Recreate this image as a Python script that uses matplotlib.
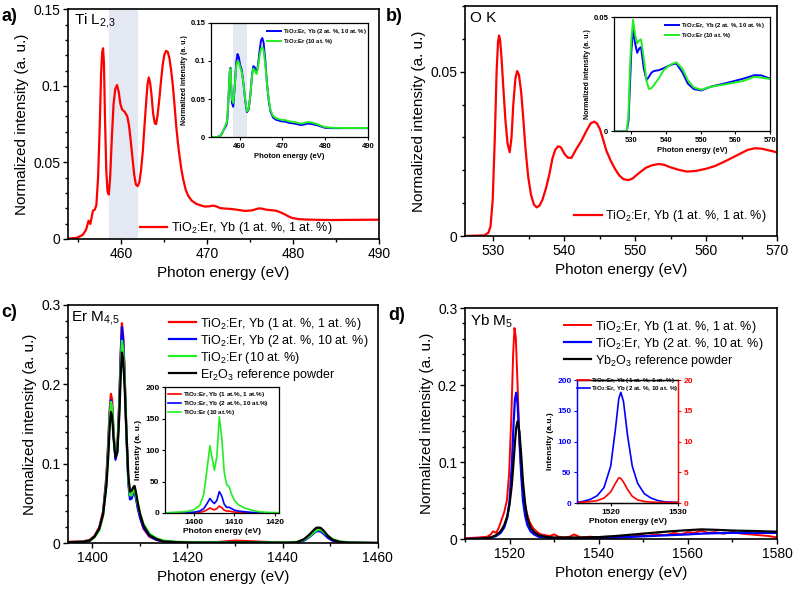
import matplotlib
matplotlib.use('Agg')
import matplotlib.pyplot as plt
from matplotlib.ticker import AutoMinorLocator

plt.rcParams['font.family'] = ['Liberation Sans', 'DejaVu Sans']
plt.rcParams['mathtext.default'] = 'regular'

RED = '#ff0000'
BLUE = '#0000ff'
GREEN = '#22ee22'
BLACK = '#000000'
SHADE = '#e4e8f2'

LBL_11 = 'TiO$_2$:Er, Yb (1 at. %, 1 at. %)'
LBL_210 = 'TiO$_2$:Er, Yb (2 at. %, 10 at. %)'
LBL_10 = 'TiO$_2$:Er (10 at. %)'
LBL_ER2O3 = 'Er$_2$O$_3$ reference powder'
LBL_YB2O3 = 'Yb$_2$O$_3$ reference powder'
LBL_IN_11 = 'TiO$_2$:Er, Yb (1 at.%, 1 at.%)'
LBL_IN_210 = 'TiO$_2$:Er, Yb (2 at.%, 10 at.%)'
LBL_IN_10 = 'TiO$_2$:Er (10 at.%)'

# ---------------- a) Ti L2,3 ----------------
ti_e = [453.8, 454.8, 455.5, 455.9, 456.2, 456.4, 456.7, 456.9, 457.1, 457.3,
        457.5, 457.65, 457.78, 457.88, 457.98, 458.1, 458.25, 458.4, 458.55, 458.7,
        458.9, 459.1, 459.3, 459.5, 459.7, 459.9, 460.1, 460.4, 460.7, 460.9,
        461.1, 461.3, 461.5, 461.7, 461.9, 462.1, 462.3, 462.5, 462.7, 462.9,
        463.05, 463.2, 463.35, 463.5, 463.7, 463.9, 464.05, 464.2, 464.4, 464.6,
        464.8, 465.0, 465.2, 465.4, 465.6, 465.8, 466.0, 466.2, 466.4, 466.6,
        466.8, 467.0, 467.2, 467.5, 467.8, 468.2, 468.7, 469.2, 469.7, 470.2,
        470.7, 471.1, 471.5, 472.2, 472.8, 473.6, 474.4, 475.2, 475.7, 476.0,
        476.4, 476.8, 477.4, 478.0, 478.6, 479.1, 479.5, 479.9, 480.6, 481.5,
        483.0, 484.6, 487.0, 490.0]
ti_red = [0.0003, 0.0007, 0.0026, 0.006, 0.012, 0.0098, 0.0185, 0.019, 0.022, 0.04,
          0.075, 0.108, 0.122, 0.1245, 0.115, 0.08, 0.045, 0.031, 0.029, 0.04,
          0.066, 0.088, 0.098, 0.1005, 0.096, 0.088, 0.0845, 0.083, 0.08, 0.074,
          0.064, 0.053, 0.042, 0.0355, 0.0345, 0.037, 0.045, 0.057, 0.074, 0.09,
          0.101, 0.1055, 0.102, 0.095, 0.082, 0.0755, 0.075, 0.08, 0.09, 0.102,
          0.113, 0.12, 0.1228, 0.1222, 0.118, 0.11, 0.1, 0.087, 0.073, 0.062,
          0.053, 0.045, 0.039, 0.032, 0.028, 0.025, 0.023, 0.022, 0.0212, 0.0213,
          0.0218, 0.0212, 0.0202, 0.0198, 0.0196, 0.019, 0.0183, 0.0187, 0.0195, 0.0200,
          0.0198, 0.0192, 0.0188, 0.0185, 0.0172, 0.0158, 0.0146, 0.0137, 0.013, 0.0127,
          0.0125, 0.0124, 0.0125, 0.0126]
tiin_e = [453.8, 454.8, 455.5, 455.9, 456.2, 456.4, 456.7, 456.9, 457.1, 457.3,
          457.5, 457.7, 457.85, 458.0, 458.2, 458.5, 458.9, 459.2, 459.5, 459.8,
          460.1, 460.5, 460.9, 461.3, 461.7, 462.1, 462.5, 462.9, 463.2, 463.5,
          463.8, 464.0, 464.3, 464.7, 465.0, 465.3, 465.6, 466.0, 466.4, 466.8,
          467.2, 467.8, 468.5, 469.7, 470.7, 471.5, 472.8, 474.4, 475.2, 476.0,
          476.8, 478.0, 479.1, 479.9, 481.5, 484.6, 490.0]
tiin_blue = [0.0003, 0.0005, 0.002, 0.005, 0.009, 0.011, 0.014, 0.016, 0.022, 0.04,
             0.065, 0.087, 0.091, 0.07, 0.045, 0.04, 0.07, 0.098, 0.109, 0.105,
             0.095, 0.088, 0.07, 0.048, 0.033, 0.036, 0.055, 0.082, 0.093, 0.092,
             0.086, 0.085, 0.095, 0.115, 0.127, 0.13, 0.124, 0.1, 0.07, 0.048,
             0.034, 0.026, 0.023, 0.021, 0.0205, 0.019, 0.018, 0.016, 0.017, 0.018,
             0.0175, 0.016, 0.014, 0.0125, 0.012, 0.012, 0.012]
tiin_green = [0.0003, 0.0005, 0.002, 0.005, 0.009, 0.012, 0.016, 0.018, 0.024, 0.042,
              0.066, 0.086, 0.09, 0.072, 0.05, 0.045, 0.07, 0.093, 0.1, 0.098,
              0.092, 0.085, 0.07, 0.05, 0.034, 0.037, 0.055, 0.08, 0.09, 0.088,
              0.084, 0.083, 0.092, 0.108, 0.116, 0.118, 0.114, 0.095, 0.07, 0.05,
              0.036, 0.028, 0.025, 0.023, 0.0225, 0.021, 0.02, 0.018, 0.019, 0.02,
              0.0195, 0.0175, 0.015, 0.0135, 0.0125, 0.0122, 0.0122]

# ---------------- b) O K ----------------
ok_e = [526.0, 528.7, 529.3, 529.6, 529.9, 530.2, 530.45, 530.65, 530.8, 530.95,
        531.15, 531.4, 531.7, 532.0, 532.3, 532.55, 532.8, 533.1, 533.35, 533.6,
        533.9, 534.2, 534.5, 534.9, 535.3, 535.7, 536.1, 536.5, 536.9, 537.4,
        537.9, 538.3, 538.7, 539.1, 539.5, 540.0, 540.5, 541.0, 541.6, 542.4,
        543.1, 543.7, 544.2, 544.6, 545.0, 545.5, 545.9, 546.5, 547.1, 547.7,
        548.3, 549.0, 549.6, 550.4, 551.5, 552.3, 553.2, 554.0, 554.8, 556.0,
        557.2, 558.5, 560.0, 561.2, 562.4, 563.6, 564.7, 565.8, 566.8, 567.7,
        568.5, 569.3, 570.0]
ok_red = [0, 0.0002, 0.001, 0.003, 0.011, 0.03, 0.05, 0.059, 0.061, 0.0595,
          0.054, 0.045, 0.035, 0.028, 0.0255, 0.03, 0.04, 0.048, 0.0502, 0.049,
          0.044, 0.036, 0.027, 0.018, 0.0125, 0.0096, 0.0087, 0.0093, 0.011, 0.0145,
          0.019, 0.0235, 0.0262, 0.0273, 0.027, 0.025, 0.0238, 0.0238, 0.0262, 0.029,
          0.032, 0.0343, 0.0348, 0.0342, 0.0325, 0.029, 0.026, 0.023, 0.0205, 0.0185,
          0.0173, 0.017, 0.0175, 0.019, 0.0208, 0.0215, 0.0219, 0.0217, 0.021, 0.0202,
          0.0196, 0.0198, 0.0205, 0.0213, 0.0225, 0.0238, 0.025, 0.0262, 0.0267, 0.0266,
          0.0262, 0.0258, 0.0254]
okin_e = [525.0, 528.7, 529.2, 529.6, 530.0, 530.5, 531.1, 531.7, 532.3, 532.8,
          533.6, 534.4, 535.1, 535.8, 536.5, 538.0, 539.4, 540.8, 542.0, 543.0,
          544.7, 546.3, 548.0, 550.2, 552.8, 557.6, 562.4, 565.5, 567.5, 570.0]
okin_blue = [0, 0, 0.005, 0.02, 0.035, 0.045, 0.0386, 0.0345, 0.0364, 0.037,
             0.0276, 0.0226, 0.024, 0.0258, 0.0265, 0.0269, 0.0278, 0.0288, 0.0295, 0.0298,
             0.026, 0.021, 0.0186, 0.018, 0.0196, 0.0213, 0.0232, 0.0247, 0.0246, 0.0232]
okin_green = [0, 0, 0.008, 0.028, 0.04, 0.049, 0.0423, 0.0386, 0.04, 0.0404,
              0.032, 0.022, 0.0186, 0.019, 0.0203, 0.0235, 0.027, 0.0288, 0.0298, 0.0303,
              0.0276, 0.0225, 0.0193, 0.0183, 0.0196, 0.0208, 0.0222, 0.024, 0.0236, 0.023]

# ---------------- c) Er M4,5 ----------------
er_e = [1395, 1398, 1399.5, 1400.5, 1401.5, 1402.3, 1403.0, 1403.4, 1403.7, 1403.95,
        1404.2, 1404.5, 1404.9, 1405.3, 1405.7, 1406.0, 1406.25, 1406.5, 1406.8, 1407.2,
        1407.6, 1407.95, 1408.3, 1408.6, 1408.9, 1409.2, 1409.6, 1410.1, 1410.8, 1412,
        1413.5, 1415, 1418, 1422, 1426, 1430, 1434, 1438, 1441, 1443,
        1444.5, 1445.5, 1446.3, 1447, 1447.5, 1448, 1448.7, 1449.5, 1450.5, 1452,
        1454, 1460]
er_red = [0.0015, 0.002, 0.004, 0.009, 0.02, 0.04, 0.085, 0.13, 0.17, 0.188,
          0.18, 0.14, 0.108, 0.12, 0.18, 0.24, 0.277, 0.262, 0.22, 0.14,
          0.08, 0.058, 0.06, 0.067, 0.07, 0.06, 0.045, 0.032, 0.018, 0.008,
          0.004, 0.002, 0.001, 0.0005, 0.001, 0.003, 0.002, 0.001, 0.0005, 0.001,
          0.004, 0.009, 0.014, 0.017, 0.018, 0.017, 0.012, 0.007, 0.003, 0.001,
          0.0005, 0.0]
er_blue = [0.001, 0.0015, 0.003, 0.008, 0.018, 0.037, 0.08, 0.125, 0.163, 0.18,
           0.172, 0.135, 0.105, 0.115, 0.175, 0.235, 0.272, 0.258, 0.215, 0.135,
           0.075, 0.055, 0.056, 0.062, 0.065, 0.056, 0.043, 0.031, 0.019, 0.009,
           0.004, 0.002, 0.001, 0.0005, 0.0005, 0.001, 0.001, 0.0005, 0.0003, 0.0008,
           0.003, 0.007, 0.011, 0.0145, 0.015, 0.0145, 0.011, 0.0065, 0.003, 0.001,
           0.0005, 0.0]
er_green = [0.001, 0.0015, 0.003, 0.007, 0.016, 0.034, 0.075, 0.12, 0.16, 0.178,
            0.172, 0.14, 0.11, 0.118, 0.17, 0.222, 0.255, 0.245, 0.21, 0.14,
            0.08, 0.06, 0.06, 0.065, 0.068, 0.06, 0.048, 0.036, 0.024, 0.012,
            0.006, 0.003, 0.0015, 0.001, 0.001, 0.001, 0.001, 0.001, 0.0008, 0.0015,
            0.004, 0.008, 0.012, 0.0155, 0.017, 0.0165, 0.013, 0.009, 0.005, 0.002,
            0.0008, 0.0]
er_black = [0.001, 0.0015, 0.003, 0.008, 0.018, 0.036, 0.072, 0.11, 0.148, 0.165,
            0.16, 0.132, 0.108, 0.115, 0.16, 0.21, 0.24, 0.232, 0.2, 0.14,
            0.085, 0.065, 0.066, 0.07, 0.072, 0.064, 0.05, 0.036, 0.022, 0.01,
            0.005, 0.002, 0.001, 0.0005, 0.0005, 0.0008, 0.0008, 0.0005, 0.0004, 0.001,
            0.005, 0.01, 0.015, 0.019, 0.0195, 0.019, 0.015, 0.009, 0.004, 0.0015,
            0.0005, 0.0]
erin_e = [1393, 1398, 1400, 1401.5, 1402.5, 1403.3, 1404.0, 1404.6, 1405.1, 1405.7,
          1406.3, 1406.9, 1407.5, 1408.1, 1408.7, 1409.3, 1410, 1411, 1412.5, 1414,
          1416, 1418, 1421]
erin_green = [0.3, 2, 5, 12, 30, 70, 107, 85, 68, 90,
              153, 120, 65, 45, 42, 30, 20, 13, 8, 5,
              2, 1, 0.5]
erin_blue = [0.1, 0.5, 1.2, 3, 7, 15, 23, 18, 15, 20,
             34, 27, 14, 9, 9, 7, 4.5, 3, 2, 1,
             0.5, 0.2, 0]
erin_red = [0, 0.2, 0.4, 1, 2.5, 5, 8, 6, 5, 7,
            11, 8.5, 4.5, 3, 3, 2.3, 1.5, 1, 0.6, 0.3,
            0.1, 0, 0]

# ---------------- d) Yb M5 ----------------
yb_e = [1510, 1513, 1515, 1516, 1517, 1518, 1518.8, 1519.5, 1520.0, 1520.5,
        1520.9, 1521.2, 1521.5, 1521.8, 1522.2, 1522.6, 1523.0, 1523.5, 1524.0, 1524.7,
        1525.5, 1526.5, 1528, 1530, 1533, 1536, 1540, 1544, 1548, 1552,
        1556, 1560, 1563, 1566, 1570, 1574, 1577, 1580]
yb_blue = [0, 0.0005, 0.001, 0.002, 0.004, 0.008, 0.015, 0.028, 0.05, 0.095,
           0.15, 0.182, 0.19, 0.175, 0.13, 0.085, 0.05, 0.03, 0.018, 0.01,
           0.006, 0.003, 0.002, 0.001, 0.001, 0.001, 0.0015, 0.002, 0.003, 0.004,
           0.005, 0.006, 0.007, 0.0075, 0.008, 0.008, 0.008, 0.008]
yb_black = [0, 0.0005, 0.0012, 0.0025, 0.005, 0.01, 0.018, 0.03, 0.045, 0.07,
            0.1, 0.125, 0.145, 0.153, 0.14, 0.11, 0.075, 0.045, 0.027, 0.015,
            0.009, 0.005, 0.003, 0.002, 0.002, 0.002, 0.0025, 0.004, 0.006, 0.008,
            0.01, 0.0115, 0.0125, 0.012, 0.011, 0.0105, 0.01, 0.0095]
ybr_e = [1510, 1513, 1515, 1515.8, 1516.3, 1517, 1517.6, 1518.2, 1518.8, 1519.4,
         1519.9, 1520.4, 1520.8, 1521.1, 1521.4, 1521.8, 1522.2, 1522.7, 1523.2, 1523.8,
         1524.5, 1525.3, 1526.2, 1527, 1528, 1529, 1530, 1531, 1532, 1533.5,
         1534.5, 1536, 1538, 1540, 1542, 1544, 1545.5, 1547, 1549, 1551,
         1553, 1555, 1557, 1558.5, 1560, 1561.5, 1563, 1564.5, 1566, 1568,
         1570, 1572, 1574, 1576, 1578, 1580]
ybr_red = [0.001, 0.002, 0.003, 0.006, 0.01, 0.008, 0.015, 0.025, 0.035, 0.05,
           0.085, 0.16, 0.24, 0.274, 0.262, 0.2, 0.13, 0.08, 0.055, 0.035,
           0.022, 0.014, 0.009, 0.006, 0.005, 0.004, 0.006, 0.003, 0.002, 0.003,
           0.006, 0.002, 0.003, 0.002, 0.003, 0.001, 0.004, 0.003, 0.005, 0.004,
           0.006, 0.005, 0.008, 0.006, 0.009, 0.008, 0.011, 0.008, 0.009, 0.007,
           0.009, 0.007, 0.006, 0.005, 0.004, 0.002]
ybin_e = [1515, 1516, 1517, 1518, 1519, 1520, 1520.7, 1521.2, 1521.5, 1521.9,
          1522.5, 1523.2, 1524, 1525, 1526, 1527, 1528, 1530]
ybin_blue = [1, 3, 6, 12, 25, 60, 120, 170, 180, 165,
             110, 60, 32, 15, 8, 4, 2, 1]
ybin_red = [0.1, 0.15, 0.25, 0.4, 0.8, 1.8, 3.2, 4.1, 4.0, 3.4,
            2.2, 1.1, 0.5, 0.25, 0.15, 0.1, 0.1, 0.1]


def main_axes(fig, rect, xlim, ylim, xticks, yticks, yticklabels):
    """主图坐标轴"""
    ax = fig.add_axes(rect)
    ax.set_xlim(xlim)
    ax.set_ylim(ylim)
    ax.set_xticks(xticks)
    ax.set_yticks(yticks, labels=yticklabels)
    ax.xaxis.set_minor_locator(AutoMinorLocator(2))
    ax.yaxis.set_minor_locator(AutoMinorLocator(5))
    ax.tick_params(which='both', direction='out', top=False, right=False,
                   labelsize=10, width=1, pad=2)
    ax.tick_params(which='major', length=3.5)
    ax.tick_params(which='minor', length=2)
    for s in ax.spines.values():
        s.set_linewidth(1.2)
    ax.set_xlabel('Photon energy (eV)', fontsize=11, labelpad=4)
    ax.set_ylabel('Normalized intensity (a. u.)', fontsize=11, labelpad=3)
    return ax


def inset_axes(fig, rect, xlim, ylim, xticks, yticks, yticklabels, ylabel,
               size=5.5, ysize=5):
    """插图坐标轴（粗体小字）"""
    ax = fig.add_axes(rect)
    ax.set_xlim(xlim)
    ax.set_ylim(ylim)
    ax.set_xticks(xticks)
    ax.set_yticks(yticks, labels=yticklabels)
    ax.tick_params(which='both', direction='out', top=False, right=False,
                   labelsize=size, width=0.8, length=2.5, pad=1.5)
    for lbl in ax.get_xticklabels() + ax.get_yticklabels():
        lbl.set_fontweight('bold')
    for s in ax.spines.values():
        s.set_linewidth(0.9)
    ax.set_xlabel('Photon energy (eV)', fontsize=size, fontweight='bold', labelpad=2)
    ax.set_ylabel(ylabel, fontsize=ysize, fontweight='bold', labelpad=2)
    return ax


def add_legend(ax, x, y, size, spacing, hlen, bold=False, handles=None):
    prop = {'size': size, 'weight': 'bold' if bold else 'normal'}
    kw = dict(loc='center left', bbox_to_anchor=(x, y), frameon=False, prop=prop,
              borderpad=0, borderaxespad=0, handlelength=hlen,
              handletextpad=0.3, labelspacing=spacing)
    if handles is not None:
        return ax.legend(handles=handles, **kw)
    return ax.legend(**kw)


fig = plt.figure(figsize=(7.98, 5.96), dpi=100)

# a) Ti L2,3
ax = main_axes(fig, [0.0852, 0.599, 0.390, 0.3855], (453.8, 490), (0, 0.15),
               [460, 470, 480, 490], [0, 0.05, 0.1, 0.15], ['0', '0.05', '0.1', '0.15'])
ax.axvspan(458.6, 462.0, color=SHADE, lw=0, zorder=0)
ax.plot(ti_e, ti_red, color=RED, lw=1.6, label=LBL_11)
ax.text(0.02, 0.952, 'Ti L$_{2{,}3}$', transform=ax.transAxes, fontsize=11, va='center')
add_legend(ax, 0.231, 0.048, 9, 0.3, 2.2)

ins = inset_axes(fig, [0.2644, 0.7696, 0.1967, 0.1923], (453.3, 490), (0, 0.15),
                 [460, 470, 480, 490], [0, 0.05, 0.1, 0.15], ['0', '0.05', '0.1', '0.15'],
                 'Normalized intensity (a. u.)')
ins.axvspan(458.5, 461.7, color=SHADE, lw=0, zorder=0)
ins.plot(tiin_e, tiin_blue, color=BLUE, lw=1.4, label=LBL_210)
ins.plot(tiin_e, tiin_green, color=GREEN, lw=1.4, label=LBL_10)
add_legend(ins, 0.355, 0.878, 4.3, 0.25, 2.4, bold=True)

# b) O K
ax = main_axes(fig, [0.5827, 0.604, 0.3916, 0.386], (526, 570), (0, 0.07),
               [530, 540, 550, 560, 570], [0, 0.05], ['0', '0.05'])
ax.plot(ok_e, ok_red, color=RED, lw=1.6, label=LBL_11)
ax.text(0.016, 0.946, 'O K', transform=ax.transAxes, fontsize=11, va='center')
add_legend(ax, 0.349, 0.087, 9, 0.3, 2.2)

ins = inset_axes(fig, [0.7694, 0.7794, 0.1955, 0.1913], (525, 570), (0, 0.05),
                 [530, 540, 550, 560, 570], [0, 0.05], ['0', '0.05'],
                 'Normalized intensity (a. u.)')
ins.plot(okin_e, okin_blue, color=BLUE, lw=1.4, label=LBL_210)
ins.plot(okin_e, okin_green, color=GREEN, lw=1.4, label=LBL_10)
add_legend(ins, 0.327, 0.887, 4.3, 0.25, 2.4, bold=True)

# c) Er M4,5
ax = main_axes(fig, [0.0856, 0.0889, 0.388, 0.3994], (1395, 1460), (0, 0.3),
               [1400, 1420, 1440, 1460], [0, 0.1, 0.2, 0.3], ['0', '0.1', '0.2', '0.3'])
ax.plot(er_e, er_red, color=RED, lw=1.6, label=LBL_11)
ax.plot(er_e, er_blue, color=BLUE, lw=1.6, label=LBL_210)
ax.plot(er_e, er_green, color=GREEN, lw=1.6, label=LBL_10)
ax.plot(er_e, er_black, color=BLACK, lw=1.6, label=LBL_ER2O3)
ax.text(0.009, 0.945, 'Er M$_{4{,}5}$', transform=ax.transAxes, fontsize=11, va='center')
add_legend(ax, 0.325, 0.815, 9, 0.08, 2.2)

ins = inset_axes(fig, [0.2068, 0.1393, 0.1432, 0.2109], (1393, 1421), (0, 200),
                 [1400, 1410, 1420], [0, 50, 100, 150, 200], ['0', '50', '100', '150', '200'],
                 'Intensity (a. u.)', size=6, ysize=6)
ins.plot(erin_e, erin_red, color=RED, lw=1.2, label=LBL_IN_11)
ins.plot(erin_e, erin_blue, color=BLUE, lw=1.2, label=LBL_IN_210)
ins.plot(erin_e, erin_green, color=GREEN, lw=1.2, label=LBL_IN_10)
add_legend(ins, 0.03, 0.872, 4.6, 0.0, 2.0, bold=True)

# d) Yb M5
ax = main_axes(fig, [0.5827, 0.0956, 0.391, 0.3876], (1510, 1580), (0, 0.3),
               [1520, 1540, 1560, 1580], [0, 0.1, 0.2, 0.3], ['0', '0.1', '0.2', '0.3'])
ax.plot(ybr_e, ybr_red, color=RED, lw=1.4, label=LBL_11)
ax.plot(yb_e, yb_blue, color=BLUE, lw=1.6, label=LBL_210)
ax.plot(yb_e, yb_black, color=BLACK, lw=1.6, label=LBL_YB2O3)
ax.text(0.016, 0.942, 'Yb M$_5$', transform=ax.transAxes, fontsize=11, va='center')
add_legend(ax, 0.317, 0.846, 9, 0.08, 2.2)

ins = inset_axes(fig, [0.7231, 0.156, 0.1266, 0.2064], (1515, 1530), (0, 200),
                 [1520, 1530], [0, 50, 100, 150, 200], ['0', '50', '100', '150', '200'],
                 'Intensity (a.u.)', size=6, ysize=6)
lb, = ins.plot(ybin_e, ybin_blue, color=BLUE, lw=1.2, label=LBL_210)
insr = ins.twinx()
insr.set_ylim(0, 20)
insr.set_yticks([0, 5, 10, 15, 20])
insr.tick_params(direction='out', labelsize=6, width=0.8, length=2.5, pad=1.5,
                 colors=RED)
for lbl in insr.get_yticklabels():
    lbl.set_fontweight('bold')
lr, = insr.plot(ybin_e, ybin_red, color=RED, lw=1.2, label=LBL_11)
ins.tick_params(axis='y', colors=BLUE)
insr.spines['left'].set_color(BLUE)
insr.spines['right'].set_color(RED)
ins.spines['left'].set_color(BLUE)
ins.spines['right'].set_color(RED)
for s in insr.spines.values():
    s.set_linewidth(0.9)
add_legend(insr, 0.0, 0.964, 4.5, -0.1, 2.0, bold=True, handles=[lr, lb])

# 面板编号
for txt, x, y in [('a)', 0.002, 0.972), ('b)', 0.483, 0.972),
                  ('c)', 0.002, 0.476), ('d)', 0.486, 0.470)]:
    fig.text(x, y, txt, fontsize=13, fontweight='bold', ha='left', va='center')

fig.savefig('out.png', dpi=100, facecolor='white')
